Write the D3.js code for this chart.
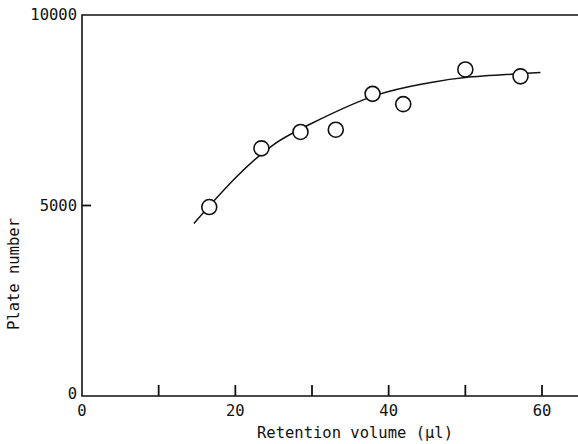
<!DOCTYPE html>
<meta charset="utf-8">
<script src="https://d3js.org/d3.v7.min.js"></script>
<style>
  body { margin: 0; background: #fff; }
  text { font-family: "DejaVu Sans Mono", monospace; font-size: 15.5px; fill: #111; }
</style>
<svg></svg>
<script>

// DATA

var volume = [16.6, 23.4, 28.5, 33.1, 37.9, 41.9, 50.0, 57.2];
var plates = [4960, 6500, 6930, 6990, 7930, 7660, 8570, 8390];

var fitX = [14.6, 20, 25, 30, 38, 45, 50, 59.8];
var fitY = [4530, 5720, 6600, 7160, 7870, 8210, 8360, 8490];

var xTicks = [10, 20, 30, 40, 50, 60];
var xLabels = [0, 20, 40, 60];
var yLabels = [0, 5000, 10000];

// GLOBALS

var width = 578;
var height = 444;

var svg = d3.select("svg")
    .attr("width", width)
    .attr("height", height);

var xScale = d3.scaleLinear()
    .domain([0, 60])
    .range([82, 542]);

var yScale = d3.scaleLinear()
    .domain([0, 10000])
    .range([396, 15]);

// FRAME

svg.append("path")
    .attr("d", "M" + width + "," + yScale(10000) + "H" + xScale(0) +
               "V" + yScale(0) + "H" + width)
    .attr("fill", "none")
    .attr("stroke", "#111")
    .attr("stroke-width", 1.6);

// TICKS

svg.selectAll(".xtick")
    .data(xTicks)
    .enter()
    .append("line")
        .attr("x1", function(d) { return xScale(d); })
        .attr("x2", function(d) { return xScale(d); })
        .attr("y1", yScale(0))
        .attr("y2", yScale(0) - 11)
        .attr("stroke", "#111")
        .attr("stroke-width", 1.8);

svg.append("line")
    .attr("x1", xScale(0))
    .attr("x2", xScale(0) + 9)
    .attr("y1", yScale(5000))
    .attr("y2", yScale(5000))
    .attr("stroke", "#111")
    .attr("stroke-width", 1.8);

svg.selectAll(".xlabel")
    .data(xLabels)
    .enter()
    .append("text")
        .attr("x", function(d) { return xScale(d); })
        .attr("y", 416)
        .attr("text-anchor", "middle")
        .text(function(d) { return d; });

svg.selectAll(".ylabel")
    .data(yLabels)
    .enter()
    .append("text")
        .attr("x", 77)
        .attr("y", function(d) { return yScale(d) - (d === 0 ? 2 : 0); })
        .attr("dy", "0.35em")
        .attr("text-anchor", "end")
        .text(function(d) { return d; });

// AXIS TITLES

svg.append("text")
    .attr("x", 355)
    .attr("y", 438)
    .attr("text-anchor", "middle")
    .text("Retention volume (\u00b5l)");

svg.append("text")
    .attr("transform", "translate(19,274) rotate(-90)")
    .attr("text-anchor", "middle")
    .text("Plate number");

// FITTED CURVE

var line = d3.line()
    .x(function(d) { return xScale(d[0]); })
    .y(function(d) { return yScale(d[1]); })
    .curve(d3.curveNatural);

svg.append("path")
    .datum(d3.zip(fitX, fitY))
    .attr("d", line)
    .attr("fill", "none")
    .attr("stroke", "#111")
    .attr("stroke-width", 1.5);

// POINTS

svg.selectAll(".pt")
    .data(d3.zip(volume, plates))
    .enter()
    .append("circle")
        .attr("cx", function(d) { return xScale(d[0]); })
        .attr("cy", function(d) { return yScale(d[1]); })
        .attr("r", 7.5)
        .attr("fill", "#fff")
        .attr("stroke", "#111")
        .attr("stroke-width", 1.6);

</script>
